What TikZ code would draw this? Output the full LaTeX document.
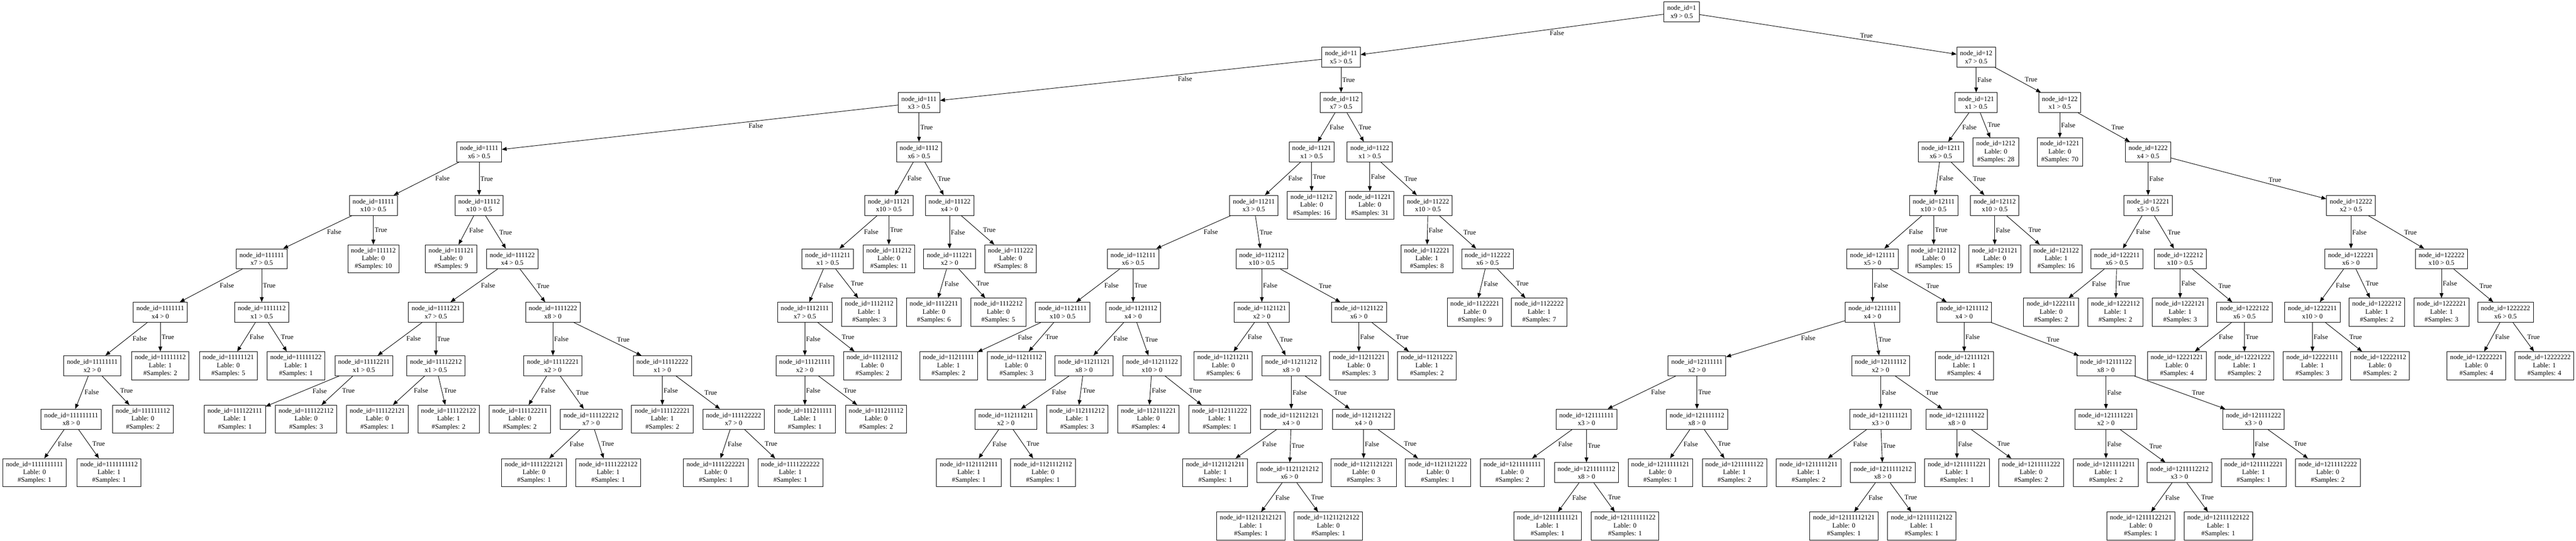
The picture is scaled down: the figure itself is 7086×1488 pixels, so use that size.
\documentclass[tikz,border=0pt]{standalone}
\usepackage{fontspec}
\setmainfont{Liberation Serif}
\usetikzlibrary{arrows.meta}

\newcommand{\splitnode}[4]{\node[testbox] (n#1) at (#2,#3) {node\_id=#1\\#4};}
\newcommand{\leafnode}[5]{\node[leafbox] (n#1) at (#2,#3) {node\_id=#1\\Lable: #4\\\#Samples: #5};}
\newcommand{\fork}[3]{\path (n#1) edge[ar] node[#2] {False} (n#11) edge[ar] node[#3] {True} (n#12);}

\begin{document}
\begin{tikzpicture}[x=0.01cm, y=-0.01cm, font=\fontsize{5.28pt}{6.2pt}\selectfont,
    testbox/.style={draw, line width=0.37pt, align=center, minimum height=0.55cm, inner xsep=2.5pt, inner ysep=0pt},
    leafbox/.style={testbox, minimum height=0.77cm},
    ar/.style={-{Triangle[length=3.85pt,width=3pt]}, line width=0.37pt},
    lf/.style={pos=0.38, anchor=north west, inner sep=0.8pt},
    rt/.style={pos=0.62, anchor=south west, inner sep=0.8pt},
    vt/.style={pos=0.5, anchor=west, inner sep=0.8pt}]
    \useasboundingbox (0,0) rectangle (7086,1488);

    \splitnode{1}{4626}{32.5}{x9 > 0.5}
    \splitnode{11}{3689}{157.5}{x5 > 0.5}
    \splitnode{12}{5436}{157.5}{x7 > 0.5}
    \splitnode{111}{2528}{282.5}{x3 > 0.5}
    \splitnode{112}{3689}{282.5}{x7 > 0.5}
    \splitnode{121}{5436}{282.5}{x1 > 0.5}
    \splitnode{122}{5666}{282.5}{x1 > 0.5}

    \splitnode{1111}{1318}{418}{x6 > 0.5}
    \splitnode{1112}{2528}{418}{x6 > 0.5}
    \splitnode{1121}{3608}{418}{x1 > 0.5}
    \splitnode{1122}{3768}{418}{x1 > 0.5}
    \splitnode{1211}{5339}{418}{x6 > 0.5}
    \leafnode{1212}{5490}{418}{0}{28}
    \leafnode{1221}{5666}{418}{0}{70}
    \splitnode{1222}{5909}{418}{x4 > 0.5}

    \splitnode{11111}{1027}{565}{x10 > 0.5}
    \splitnode{11112}{1318}{565}{x10 > 0.5}
    \splitnode{11121}{2445}{565}{x10 > 0.5}
    \splitnode{11122}{2612}{565}{x4 > 0}
    \splitnode{11211}{3449}{565}{x3 > 0.5}
    \leafnode{11212}{3608}{565}{0}{16}
    \leafnode{11221}{3768}{565}{0}{31}
    \splitnode{11222}{3928}{565}{x10 > 0.5}
    \splitnode{12111}{5319}{565}{x10 > 0.5}
    \splitnode{12112}{5487}{565}{x10 > 0.5}
    \splitnode{12221}{5909}{565}{x5 > 0.5}
    \splitnode{12222}{6467}{565}{x2 > 0.5}

    \splitnode{111111}{720}{712}{x7 > 0.5}
    \leafnode{111112}{1027}{712}{0}{10}
    \leafnode{111121}{1241}{712}{0}{9}
    \splitnode{111122}{1409}{712}{x4 > 0.5}
    \splitnode{111211}{2277}{712}{x1 > 0.5}
    \leafnode{111212}{2445}{712}{0}{11}
    \splitnode{111221}{2612}{712}{x2 > 0}
    \leafnode{111222}{2780}{712}{0}{8}
    \splitnode{112111}{3117}{712}{x6 > 0.5}
    \splitnode{112112}{3471}{712}{x10 > 0.5}
    \leafnode{112221}{3925}{712}{1}{8}
    \splitnode{112222}{4092}{712}{x6 > 0.5}
    \splitnode{121111}{5151}{712}{x5 > 0}
    \leafnode{121112}{5319}{712}{0}{15}
    \leafnode{121121}{5487}{712}{0}{19}
    \leafnode{121122}{5656}{712}{1}{16}
    \splitnode{122211}{5823}{712}{x6 > 0.5}
    \splitnode{122212}{5997}{712}{x10 > 0.5}
    \splitnode{122221}{6467}{712}{x6 > 0}
    \splitnode{122222}{6716}{712}{x10 > 0.5}

    \splitnode{1111111}{441}{859}{x4 > 0}
    \splitnode{1111112}{720}{859}{x1 > 0.5}
    \splitnode{1111221}{1199}{859}{x7 > 0.5}
    \splitnode{1111222}{1521}{859}{x8 > 0}
    \splitnode{1112111}{2214}{859}{x7 > 0.5}
    \leafnode{1112112}{2391}{859}{1}{3}
    \leafnode{1112211}{2569}{859}{0}{6}
    \leafnode{1112212}{2746}{859}{0}{5}
    \splitnode{1121111}{2923}{859}{x10 > 0.5}
    \splitnode{1121112}{3117}{859}{x4 > 0}
    \splitnode{1121121}{3471}{859}{x2 > 0}
    \splitnode{1121122}{3738}{859}{x6 > 0}
    \leafnode{1122221}{4057}{859}{0}{9}
    \leafnode{1122222}{4234}{859}{1}{7}
    \splitnode{1211111}{5151}{859}{x4 > 0}
    \splitnode{1211112}{5403}{859}{x4 > 0}
    \leafnode{1222111}{5642}{859}{0}{2}
    \leafnode{1222112}{5819}{859}{1}{2}
    \leafnode{1222121}{5997}{859}{1}{3}
    \splitnode{1222122}{6174}{859}{x6 > 0.5}
    \splitnode{1222211}{6361}{859}{x10 > 0}
    \leafnode{1222212}{6538}{859}{1}{2}
    \leafnode{1222221}{6716}{859}{1}{3}
    \splitnode{1222222}{6892}{859}{x6 > 0.5}

    \splitnode{11111111}{254}{1006}{x2 > 0}
    \leafnode{11111112}{441}{1006}{1}{2}
    \leafnode{11111121}{628}{1006}{0}{5}
    \leafnode{11111122}{814}{1006}{1}{1}
    \splitnode{11112211}{1001}{1006}{x1 > 0.5}
    \splitnode{11112212}{1199}{1006}{x1 > 0.5}
    \splitnode{11112221}{1521}{1006}{x2 > 0}
    \splitnode{11112222}{1822}{1006}{x1 > 0}
    \splitnode{11121111}{2214}{1006}{x2 > 0}
    \leafnode{11121112}{2400}{1006}{0}{2}
    \leafnode{11211111}{2609}{1006}{1}{2}
    \leafnode{11211112}{2796}{1006}{0}{3}
    \splitnode{11211121}{2982}{1006}{x8 > 0}
    \splitnode{11211122}{3169}{1006}{x10 > 0}
    \leafnode{11211211}{3365}{1006}{0}{6}
    \splitnode{11211212}{3552}{1006}{x8 > 0}
    \leafnode{11211221}{3738}{1006}{0}{3}
    \leafnode{11211222}{3925}{1006}{1}{2}
    \splitnode{12111111}{4668}{1006}{x2 > 0}
    \splitnode{12111112}{5173}{1006}{x2 > 0}
    \leafnode{12111121}{5403}{1006}{1}{4}
    \splitnode{12111122}{5793}{1006}{x8 > 0}
    \leafnode{12221221}{5988}{1006}{0}{4}
    \leafnode{12221222}{6174}{1006}{1}{2}
    \leafnode{12222111}{6361}{1006}{1}{3}
    \leafnode{12222112}{6547}{1006}{0}{2}
    \leafnode{12222221}{6812}{1006}{0}{4}
    \leafnode{12222222}{6999}{1006}{1}{4}

    \splitnode{111111111}{196}{1153}{x8 > 0}
    \leafnode{111111112}{393}{1153}{0}{2}
    \leafnode{111122111}{646}{1153}{1}{1}
    \leafnode{111122112}{842}{1153}{0}{3}
    \leafnode{111122121}{1038}{1153}{0}{1}
    \leafnode{111122122}{1234}{1153}{1}{2}
    \leafnode{111122211}{1430}{1153}{0}{2}
    \splitnode{111122212}{1626}{1153}{x7 > 0}
    \leafnode{111122221}{1822}{1153}{1}{2}
    \splitnode{111122222}{2018}{1153}{x7 > 0}
    \leafnode{111211111}{2214}{1153}{1}{1}
    \leafnode{111211112}{2410}{1153}{0}{2}
    \splitnode{112111211}{2767}{1153}{x2 > 0}
    \leafnode{112111212}{2963}{1153}{1}{3}
    \leafnode{112111221}{3159}{1153}{0}{4}
    \leafnode{112111222}{3355}{1153}{1}{1}
    \splitnode{112112121}{3552}{1153}{x4 > 0}
    \splitnode{112112122}{3751}{1153}{x4 > 0}
    \splitnode{121111111}{4364}{1153}{x3 > 0}
    \splitnode{121111112}{4668}{1153}{x8 > 0}
    \splitnode{121111121}{5173}{1153}{x3 > 0}
    \splitnode{121111122}{5383}{1153}{x8 > 0}
    \splitnode{121111221}{5793}{1153}{x2 > 0}
    \splitnode{121111222}{6199}{1153}{x3 > 0}

    \leafnode{1111111111}{95}{1300}{0}{1}
    \leafnode{1111111112}{300}{1300}{1}{1}
    \leafnode{1111222121}{1469}{1300}{0}{1}
    \leafnode{1111222122}{1673}{1300}{1}{1}
    \leafnode{1111222221}{1969}{1300}{0}{1}
    \leafnode{1111222222}{2174}{1300}{1}{1}
    \leafnode{1121112111}{2665}{1300}{1}{1}
    \leafnode{1121112112}{2869}{1300}{0}{1}
    \leafnode{1121121211}{3343}{1300}{1}{1}
    \splitnode{1121121212}{3547}{1300}{x6 > 0}
    \leafnode{1121121221}{3751}{1300}{0}{3}
    \leafnode{1121121222}{3955}{1300}{0}{1}
    \leafnode{1211111111}{4160}{1300}{0}{2}
    \splitnode{1211111112}{4364}{1300}{x8 > 0}
    \leafnode{1211111121}{4567}{1300}{0}{1}
    \leafnode{1211111122}{4771}{1300}{1}{2}
    \leafnode{1211111211}{4975}{1300}{1}{2}
    \splitnode{1211111212}{5179}{1300}{x8 > 0}
    \leafnode{1211111221}{5383}{1300}{1}{1}
    \leafnode{1211111222}{5587}{1300}{0}{2}
    \leafnode{1211112211}{5793}{1300}{1}{2}
    \splitnode{1211112212}{5995}{1300}{x3 > 0}
    \leafnode{1211112221}{6199}{1300}{1}{1}
    \leafnode{1211112222}{6403}{1300}{0}{2}

    \leafnode{11211212121}{3441}{1447}{1}{1}
    \leafnode{11211212122}{3654}{1447}{0}{1}
    \leafnode{12111111121}{4257}{1447}{1}{1}
    \leafnode{12111111122}{4470}{1447}{0}{1}
    \leafnode{12111112121}{5072}{1447}{0}{1}
    \leafnode{12111112122}{5286}{1447}{1}{1}
    \leafnode{12111122121}{5889}{1447}{0}{1}
    \leafnode{12111122122}{6102}{1447}{1}{1}

    \fork{1}{lf}{rt}
    \fork{11}{lf}{vt}
    \fork{12}{vt}{rt}
    \fork{111}{lf}{vt}
    \fork{112}{lf}{rt}
    \fork{121}{lf}{rt}
    \fork{122}{vt}{rt}
    \fork{1111}{lf}{vt}
    \fork{1112}{lf}{rt}
    \fork{1121}{lf}{vt}
    \fork{1122}{vt}{rt}
    \fork{1211}{lf}{rt}
    \fork{1222}{vt}{rt}
    \fork{11111}{lf}{vt}
    \fork{11112}{lf}{rt}
    \fork{11121}{lf}{vt}
    \fork{11122}{vt}{rt}
    \fork{11211}{lf}{rt}
    \fork{11222}{vt}{rt}
    \fork{12111}{lf}{vt}
    \fork{12112}{vt}{rt}
    \fork{12221}{lf}{rt}
    \fork{12222}{vt}{rt}
    \fork{111111}{lf}{vt}
    \fork{111122}{lf}{rt}
    \fork{111211}{lf}{rt}
    \fork{111221}{lf}{rt}
    \fork{112111}{lf}{vt}
    \fork{112112}{vt}{rt}
    \fork{112222}{lf}{rt}
    \fork{121111}{vt}{rt}
    \fork{122211}{lf}{vt}
    \fork{122212}{vt}{rt}
    \fork{122221}{lf}{rt}
    \fork{122222}{vt}{rt}
    \fork{1111111}{lf}{vt}
    \fork{1111112}{lf}{rt}
    \fork{1111221}{lf}{vt}
    \fork{1111222}{vt}{rt}
    \fork{1112111}{vt}{rt}
    \fork{1121111}{lf}{lf}
    \fork{1121112}{lf}{rt}
    \fork{1121121}{lf}{rt}
    \fork{1121122}{vt}{rt}
    \fork{1211111}{lf}{rt}
    \fork{1211112}{vt}{rt}
    \fork{1222122}{lf}{vt}
    \fork{1222211}{vt}{rt}
    \fork{1222222}{lf}{rt}
    \fork{11111111}{lf}{rt}
    \fork{11112211}{lf}{lf}
    \fork{11112212}{lf}{rt}
    \fork{11112221}{lf}{rt}
    \fork{11112222}{vt}{rt}
    \fork{11121111}{vt}{rt}
    \fork{11211121}{lf}{lf}
    \fork{11211122}{lf}{rt}
    \fork{11211212}{vt}{rt}
    \fork{12111111}{lf}{vt}
    \fork{12111112}{vt}{rt}
    \fork{12111122}{vt}{rt}
    \fork{111111111}{lf}{rt}
    \fork{111122212}{lf}{rt}
    \fork{111122222}{lf}{rt}
    \fork{112111211}{lf}{rt}
    \fork{112112121}{lf}{vt}
    \fork{112112122}{vt}{rt}
    \fork{121111111}{lf}{vt}
    \fork{121111112}{lf}{rt}
    \fork{121111121}{lf}{vt}
    \fork{121111122}{vt}{rt}
    \fork{121111221}{vt}{rt}
    \fork{121111222}{vt}{rt}
    \fork{1121121212}{lf}{rt}
    \fork{1211111112}{lf}{rt}
    \fork{1211111212}{lf}{rt}
    \fork{1211112212}{lf}{rt}
\end{tikzpicture}
\end{document}
